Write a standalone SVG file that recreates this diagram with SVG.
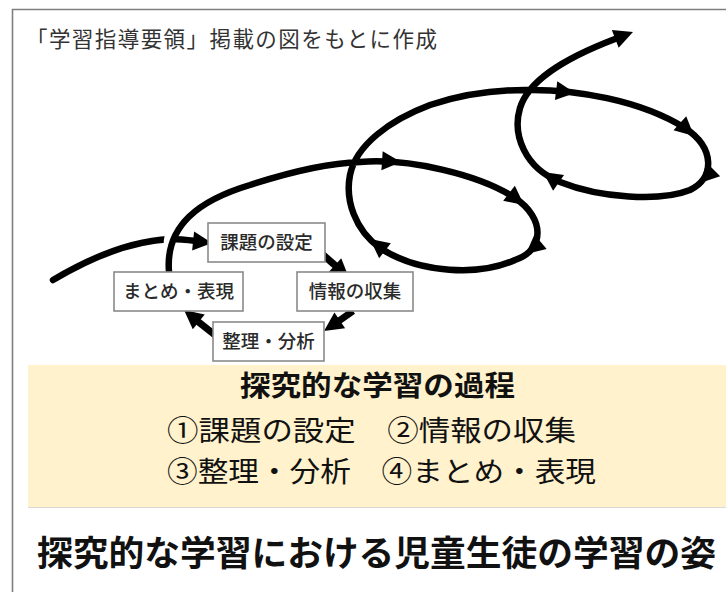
<svg xmlns="http://www.w3.org/2000/svg" xmlns:xlink="http://www.w3.org/1999/xlink" width="726" height="592" viewBox="0 0 726 592">
<style>
.frame{fill:none;stroke:#7f7f7f;stroke-width:1.6}
.box{fill:#fff;stroke:#8a8a8a;stroke-width:1.6}
.bt{font-family:"Noto Sans CJK JP","Noto Sans CJK SC",sans-serif;font-size:18.5px;fill:#2a2a2a;text-anchor:middle;font-weight:500}
.ln{fill:none;stroke:#000;stroke-width:6.5;stroke-linecap:round;stroke-linejoin:round}
.sh{fill:none;stroke:#000;stroke-width:7;stroke-linecap:butt}
.halo{fill:none;stroke:#fff;stroke-width:12}
.note{font-family:"Noto Sans CJK JP","Noto Sans CJK SC",sans-serif;font-size:21.5px;fill:#333}
.ttl{font-family:"Noto Sans CJK JP","Noto Sans CJK SC",sans-serif;font-weight:bold;fill:#111}
.txt{font-family:"Noto Sans CJK JP","Noto Sans CJK SC",sans-serif;fill:#111;font-size:28px}
</style>
<defs>
<path id="ah" d="M0,0 L-19,-9.5 L-19,9.5 Z" fill="#000"/>
</defs>
<rect x="0" y="0" width="726" height="592" fill="#fff"/>
<path class="frame" d="M12.5,592 L12.5,9.5 L726,9.5"/>
<text class="note" x="26" y="47" textLength="411" lengthAdjust="spacing">「学習指導要領」掲載の図をもとに作成</text>

<g id="connectors">
<path class="ln" d="M53,280 C90,258 130,241 170,239 C180,239 188,240 196,241"/>
<use xlink:href="#ah" transform="translate(212,243) rotate(6)"/>
<path class="halo" d="M170,258 C168,240 171,230 176,222"/>
<path class="ln" d="M169,272 C165,225 200,200 250,185 C290,172 330,163 360,162 C410,158 480,175 515,198 C545,218 545,250 515,260 C480,276 420,274 380,248 C355,230 345,200 350,175 C356,145 390,120 430,105 C460,95 490,90 525,90 C575,89 640,100 685,128 C715,148 715,178 690,190 C660,202 600,198 560,182 C525,168 512,135 520,108 C528,82 560,60 615,39"/>
<use xlink:href="#ah" transform="translate(401,162) rotate(4)"/>
<use xlink:href="#ah" transform="translate(524,205) rotate(38)"/>
<use xlink:href="#ah" transform="translate(526,254) rotate(140)"/>
<use xlink:href="#ah" transform="translate(370,239) rotate(-142)"/>
<use xlink:href="#ah" transform="translate(575,93) rotate(7)"/>
<use xlink:href="#ah" transform="translate(694,136) rotate(42)"/>
<use xlink:href="#ah" transform="translate(700,183) rotate(135)"/>
<use xlink:href="#ah" transform="translate(543,172) rotate(-145)"/>
<use xlink:href="#ah" transform="translate(633,32) rotate(-21)"/>
<path class="sh" d="M321,253 L337,267"/>
<use xlink:href="#ah" transform="translate(349,278) rotate(42)"/>
<path class="sh" d="M353,311 L336,323"/>
<use xlink:href="#ah" transform="translate(324,331) rotate(146)"/>
<path class="sh" d="M215,335 L196,320"/>
<use xlink:href="#ah" transform="translate(184,310) rotate(-141)"/>
</g>

<g id="node-kadai">
<rect class="box" x="208" y="223" width="117" height="39"/>
<text class="bt" x="266.5" y="249">課題の設定</text>
</g>
<g id="node-matome">
<rect class="box" x="114" y="272" width="129" height="39"/>
<text class="bt" x="178.5" y="298">まとめ・表現</text>
</g>
<g id="node-joho">
<rect class="box" x="297" y="272" width="116" height="39"/>
<text class="bt" x="355" y="298">情報の収集</text>
</g>
<g id="node-seiri">
<rect class="box" x="213" y="322" width="111" height="39"/>
<text class="bt" x="268.5" y="348">整理・分析</text>
</g>

<g id="process-panel">
<rect x="28" y="365" width="698" height="142" fill="#fff2cc"/>
<line x1="28" y1="507.5" x2="726" y2="507.5" stroke="#d8d8d8" stroke-width="1"/>
<text class="ttl" x="240" y="396" font-size="28" textLength="275" lengthAdjust="spacingAndGlyphs">探究的な学習の過程</text>
<text class="txt" x="167" y="441" textLength="409" lengthAdjust="spacingAndGlyphs">①課題の設定　②情報の収集</text>
<text class="txt" x="167" y="482" textLength="429" lengthAdjust="spacingAndGlyphs">③整理・分析　④まとめ・表現</text>
</g>

<text class="ttl" x="37" y="566" font-size="35" textLength="679" lengthAdjust="spacingAndGlyphs">探究的な学習における児童生徒の学習の姿</text>
</svg>
